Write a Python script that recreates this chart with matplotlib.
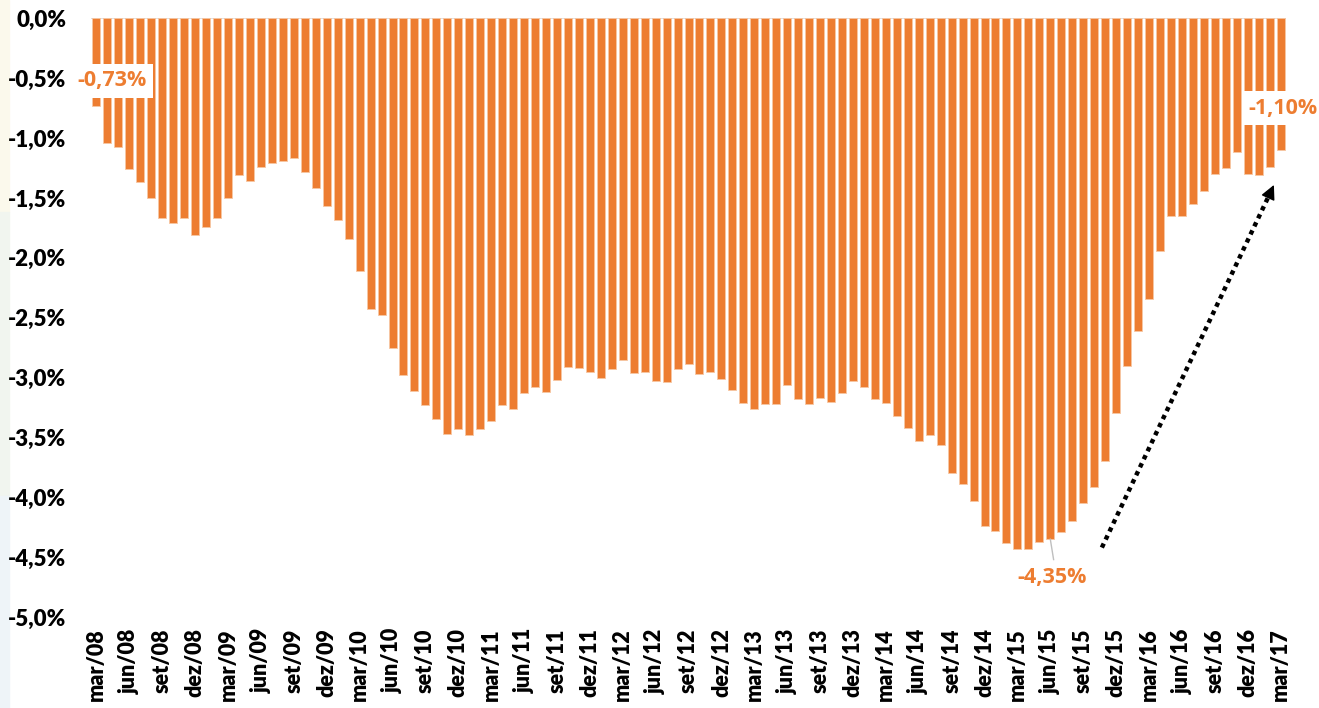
import numpy as np
import matplotlib
matplotlib.use("Agg")
import matplotlib.pyplot as plt
from matplotlib.patches import Rectangle

# Resultado mensal acumulado em 12 meses (% do PIB), mar/08 a mar/17
meses = ["jan", "fev", "mar", "abr", "mai", "jun", "jul", "ago", "set", "out", "nov", "dez"]
valores = [
    -0.73, -1.04, -1.07, -1.26, -1.37, -1.50, -1.67, -1.71, -1.67, -1.81,
    -1.74, -1.67, -1.50, -1.31, -1.36, -1.24, -1.21, -1.19, -1.17, -1.28,
    -1.42, -1.57, -1.68, -1.84, -2.11, -2.43, -2.48, -2.75, -2.98, -3.11,
    -3.23, -3.35, -3.47, -3.43, -3.48, -3.43, -3.36, -3.23, -3.26, -3.13,
    -3.08, -3.12, -3.02, -2.91, -2.92, -2.95, -3.00, -2.93, -2.85, -2.96,
    -2.95, -3.03, -3.04, -2.93, -2.89, -2.97, -2.95, -3.01, -3.10, -3.21,
    -3.26, -3.22, -3.22, -3.06, -3.18, -3.22, -3.17, -3.20, -3.13, -3.03,
    -3.08, -3.18, -3.21, -3.32, -3.42, -3.53, -3.48, -3.56, -3.80, -3.89,
    -4.03, -4.24, -4.28, -4.38, -4.43, -4.43, -4.37, -4.35, -4.29, -4.20,
    -4.05, -3.91, -3.70, -3.30, -2.90, -2.61, -2.34, -1.94, -1.65, -1.65,
    -1.55, -1.44, -1.30, -1.25, -1.12, -1.30, -1.31, -1.24, -1.10,
]

# rótulos mes/ano a partir de mar/08
rotulos = []
for i in range(len(valores)):
    m = (2 + i) % 12
    a = 8 + (2 + i) // 12
    rotulos.append(f"{meses[m]}/{a:02d}")

ticks_y = [0.0, -0.5, -1.0, -1.5, -2.0, -2.5, -3.0, -3.5, -4.0, -4.5, -5.0]

laranja = "#ED7D31"

plt.rcParams["font.family"] = ["Lato", "DejaVu Sans"]

fig = plt.figure(figsize=(13.19, 7.08), dpi=100)
# faixa de fundo do slide na borda esquerda
for y0, h, c in [(0.7, 0.3, "#fbf9ec"), (0.3, 0.4, "#f1f5ef"), (0.0, 0.3, "#eef4f8")]:
    fig.patches.append(Rectangle((0, y0), 0.007, h, transform=fig.transFigure,
                                 color=c, zorder=-1))
ax = fig.add_axes([0.069, 0.1285, 0.906, 0.8455])

x = np.arange(len(valores))
ax.bar(x, valores, width=0.73, color=laranja, edgecolor="#f7c7a3", linewidth=0.6, zorder=2)
ax.axhline(0, color="#d9d9d9", lw=1.2, zorder=1)

ax.set_xlim(-0.5, len(valores) - 0.5)
ax.set_ylim(-5.0, 0.0)
for s in ax.spines.values():
    s.set_visible(False)

ax.set_yticks(ticks_y)
ax.set_yticklabels([f"{t:.1f}%".replace(".", ",") for t in ticks_y],
                   fontsize=16, fontweight="heavy")
ax.tick_params(axis="y", length=0, pad=18)

ax.set_xticks(x[::3])
ax.set_xticklabels(rotulos[::3], rotation=90, fontsize=15.5, fontweight="heavy")
ax.tick_params(axis="x", length=0, pad=8)


def fmt(v):
    return f"{v:.2f}%".replace(".", ",")


caixa = dict(boxstyle="square,pad=0.3", fc="white", ec="none")
ax.text(1.4, -0.52, fmt(valores[0]), color=laranja, fontsize=15.5, fontweight="bold",
        family=["Open Sans", "DejaVu Sans"], ha="center", va="center", bbox=caixa, zorder=5)
ax.text(108.2, -0.75, fmt(valores[-1]), color=laranja, fontsize=15.5, fontweight="bold",
        family=["Open Sans", "DejaVu Sans"], ha="center", va="center", bbox=caixa, zorder=5)

# mínimo da série com linha de chamada
i_min = 87
ax.plot([i_min, i_min + 0.3], [valores[i_min], valores[i_min] - 0.17], color="#bfbfbf", lw=1, zorder=3)
ax.text(i_min + 0.2, -4.67, fmt(valores[i_min]), color=laranja, fontsize=15.5, fontweight="bold",
        family=["Open Sans", "DejaVu Sans"], ha="center", va="center", zorder=5)

# seta pontilhada indicando a recuperação
x0, y0, x1, y1 = 91.7, -4.42, 107.5, -1.37
ax.plot([x0, x1 - 0.35], [y0, y1 - 0.07], color="black", lw=3.2,
        dashes=(1, 1), dash_capstyle="butt", zorder=4)
ax.annotate("", xy=(x1, y1), xytext=(x1 - 0.6, y1 - 0.12),
            arrowprops=dict(arrowstyle="-|>", color="black", lw=1, mutation_scale=22), zorder=4)

fig.savefig("out.png", dpi=100)
